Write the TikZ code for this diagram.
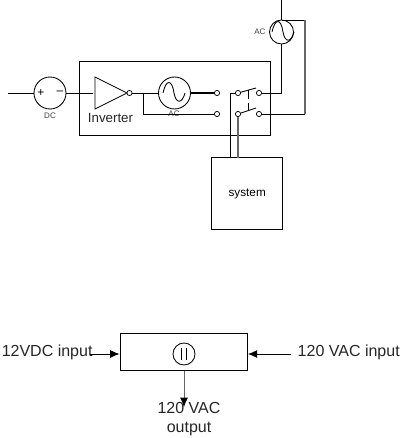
\documentclass[tikz,border=0pt]{standalone}
\usepackage{fontspec}
\setmainfont{Liberation Sans}
\usetikzlibrary{arrows.meta,positioning}
\definecolor{wiregray}{gray}{0.4}
\tikzset{
  wire/.style={draw=black, line width=0.65pt},
  graywire/.style={draw=wiregray, line width=1pt},
  box/.style={rectangle, draw, line width=0.7pt, inner sep=0pt},
  source/.style={circle, draw, line width=0.65pt, inner sep=0pt},
  term/.style={circle, draw, line width=0.55pt, inner sep=0pt, minimum size=3.9pt, fill=white},
  tiny/.style={font=\fontsize{6}{7}\selectfont, text=black!75, inner sep=0pt},
  label/.style={font=\fontsize{12}{14.5}\selectfont, align=center, inner sep=0pt, text=black!85},
  arr/.style={-{Latex[length=7pt,width=6pt,black]}, line width=0.65pt}
}
\newcommand{\sinewave}[2]{\draw[line width=0.65pt] (#1,#2) .. controls (#1+3,#2-14) and (#1+9,#2-14) .. (#1+11,#2) .. controls (#1+13,#2+11) and (#1+19,#2+11) .. (#1+22,#2);}
\begin{document}
\begin{tikzpicture}[x=0.75pt,y=-0.75pt]
\useasboundingbox (0,0) rectangle (400,438);
% inverter block
\node[box, minimum width=143pt, minimum height=55.5pt] (inv) at (174.75,98) {};
\node[source, minimum size=24pt] (dc) at (50,93) {};
\node[tiny, below=2.5pt of dc] (dclab) {DC};
\node[inner sep=0pt, font=\fontsize{9}{9}\selectfont] (plus) at (41,93) {+};
\node[inner sep=0pt, font=\fontsize{9}{9}\selectfont] (minus) at (60,93) {--};
\coordinate (dcin) at (8,93);
\coordinate (ampin) at (93,93);
\draw[line width=0.65pt] (95,77) -- (95,109) -- (127,93) -- cycle;
\node[term] (bub) at (129.5,93) {};
\node[font=\fontsize{10}{12}\selectfont, text=black!85, inner sep=0pt] (invlab) at (110.5,118) {Inverter};
\node[source, minimum size=24pt] (acgen) at (174.5,93) {};
\sinewave{163}{93}
\node[tiny] (aclab) at (174,114) {AC};
\draw[wire] (dcin) -- (dc);
\draw[wire] (dc) -- (ampin);
\draw[wire] (bub) -- (acgen);
% switch
\node[term] (t1) at (217,93) {};
\node[term] (t2) at (217,114) {};
\node[term] (t3) at (238,93) {};
\node[term] (t4) at (238,114) {};
\node[term] (t5) at (259,93) {};
\node[term] (t6) at (259,114) {};
\coordinate (tap) at (143,93);
\coordinate (arm1) at (256,88);
\coordinate (arm2) at (256,108);
\draw[line width=1.1pt] (acgen) -- (t1);
\draw[wire] (tap) |- (t2);
\draw[wire] (t3) -- (arm1);
\draw[wire] (t4) -- (arm2);
\draw[wire, dash pattern=on 7pt off 3pt] (248,90) -- (248,111);
% mains
\node[source, minimum size=18pt] (acmain) at (281.5,32) {};
\sinewave{272}{32}
\node[tiny, left=2.5pt of acmain] (mainlab) {AC};
\coordinate (top) at (281.5,0);
\coordinate (topj) at (281.5,20);
\coordinate (rgt) at (305,20);
\draw[wire] (top) -- (acmain);
\draw[wire] (acmain.south) |- (t5);
\draw[wire] (topj) -- (rgt);
\draw[graywire] (rgt) -- (305,114);
\draw[wire] (305,114) -- (t6);
% load
\node[box, minimum width=53.6pt, minimum height=53.6pt, font=\fontsize{8.8}{10}\selectfont] (sys) at (247.2,193.7) {system};
\draw[wire] (t3) -- (230,93) -- (230,158);
\draw[graywire] (t4) -- (238,158);
% lower block
\node[box, minimum width=95.6pt, minimum height=27.6pt] (ups) at (183.7,352) {};
\node[source, minimum size=16.5pt] (upsym) at (184,354) {};
\draw[line width=0.5pt] (181.5,348) -- (181.5,360);
\draw[line width=0.5pt] (186.5,348) -- (186.5,360);
\node[label, anchor=west] (dcinput) at (1.5,352.5) {12VDC input};
\node[label, anchor=east] (acinput) at (400,352) {120 VAC input};
\node[label] (acoutput) at (189,419) {120 VAC\\output};
\coordinate (dcstart) at (90,354);
\coordinate (acstart) at (291,354);
\coordinate (outend) at (184,407);
\draw[arr] (dcstart) -- (dcstart -| ups.west);
\draw[arr] (acstart) -- (acstart -| ups.east);
\draw[arr, draw=wiregray] (upsym |- ups.south) -- (outend);
\end{tikzpicture}
\end{document}
